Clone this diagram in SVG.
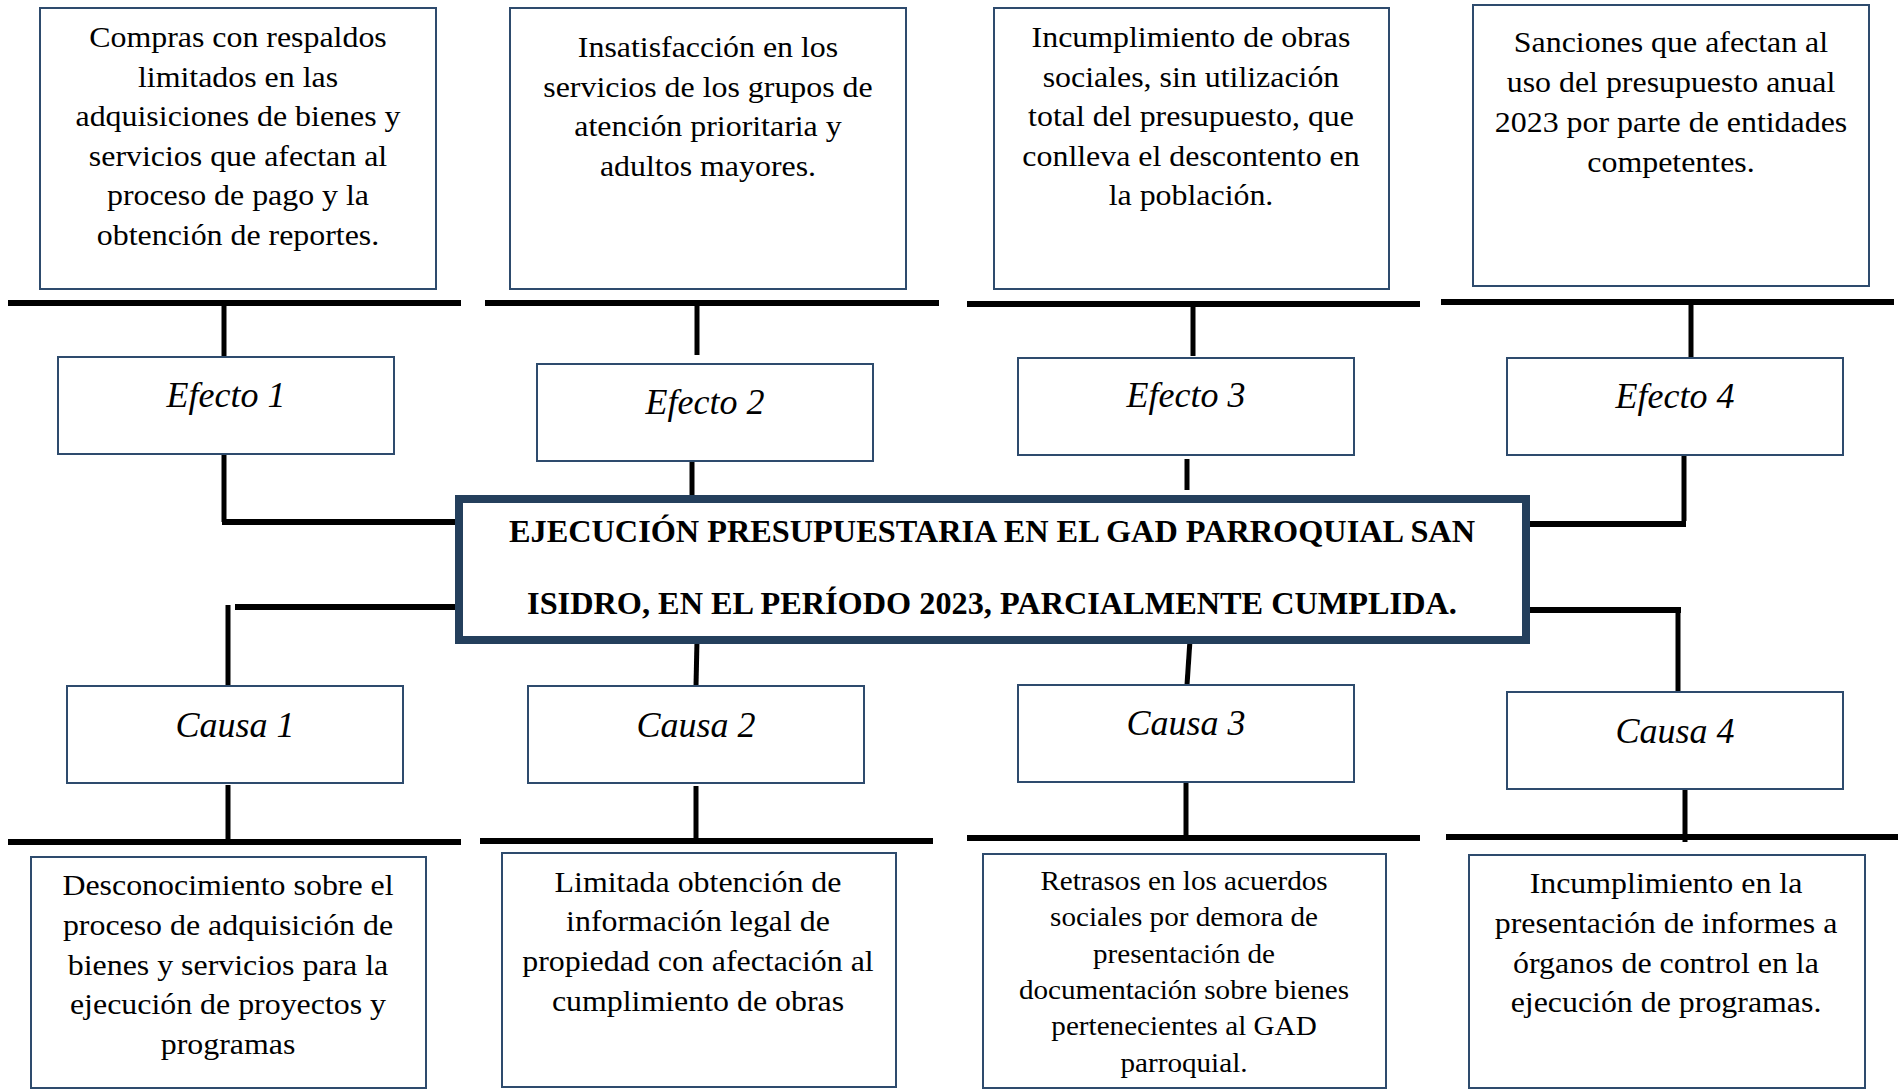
<svg xmlns="http://www.w3.org/2000/svg" width="1902" height="1091" viewBox="0 0 1902 1091">
<style>
.bg{fill:#ffffff}
.box{fill:#ffffff;stroke:#2E4B6D;stroke-width:2}
.main{fill:#ffffff;stroke:#243F5C;stroke-width:8}
.bar{stroke:#000000;stroke-width:6;fill:none}
.con{stroke:#000000;stroke-width:5;fill:none}
.t{font-family:"Liberation Serif","Times New Roman",serif;font-size:29px;fill:#000000;text-anchor:middle}
.ts{font-family:"Liberation Serif","Times New Roman",serif;font-size:26.5px;fill:#000000;text-anchor:middle}
.lab{font-family:"Liberation Serif","Times New Roman",serif;font-size:36px;font-style:italic;fill:#000000;text-anchor:middle}
.mt{font-family:"Liberation Serif","Times New Roman",serif;font-size:32.3px;font-weight:bold;fill:#000000;text-anchor:middle}
</style>
<rect class="bg" x="0" y="0" width="1902" height="1091"/>

<g id="connectors">
  <line class="bar" x1="8" y1="303" x2="461" y2="303"/>
  <line class="bar" x1="485" y1="303" x2="939" y2="303"/>
  <line class="bar" x1="967" y1="304" x2="1420" y2="304"/>
  <line class="bar" x1="1441" y1="302" x2="1894" y2="302"/>
  <line class="bar" x1="8" y1="842" x2="461" y2="842"/>
  <line class="bar" x1="480" y1="841" x2="933" y2="841"/>
  <line class="bar" x1="967" y1="838" x2="1420" y2="838"/>
  <line class="bar" x1="1446" y1="837" x2="1898" y2="837"/>
  <path class="con" d="M224,303 V356"/>
  <path class="con" d="M697,303 V355"/>
  <path class="con" d="M1193,304 V356"/>
  <path class="con" d="M1691,302 V357"/>
  <path class="con" d="M224,454 V522"/>
  <path class="bar" d="M222,522 H456"/>
  <path class="con" d="M692,461 V495"/>
  <path class="con" d="M1187,459 V490"/>
  <path class="con" d="M1684,455 V521"/>
  <path class="bar" d="M1530,524 H1686"/>
  <path class="bar" d="M235,607 H456"/>
  <path class="con" d="M228,605 V686"/>
  <path class="con" d="M697,640 L696,686"/>
  <path class="con" d="M1190,640 L1187,685"/>
  <path class="bar" d="M1530,610 H1681"/>
  <path class="con" d="M1678,607 V692"/>
  <path class="con" d="M228,785 V839"/>
  <path class="con" d="M696,786 V839"/>
  <path class="con" d="M1186,782 V835"/>
  <path class="con" d="M1685,789 V842"/>
</g>

<g id="efecto-texto-1">
  <rect class="box" x="40" y="8" width="396" height="281"/>
  <g transform="translate(238,0) scale(1.1,1)">
    <text class="t" x="0" y="47">Compras con respaldos</text>
    <text class="t" x="0" y="87">limitados en las</text>
    <text class="t" x="0" y="126">adquisiciones de bienes y</text>
    <text class="t" x="0" y="166">servicios que afectan al</text>
    <text class="t" x="0" y="205">proceso de pago y la</text>
    <text class="t" x="0" y="245">obtención de reportes.</text>
  </g>
</g>
<g id="efecto-texto-2">
  <rect class="box" x="510" y="8" width="396" height="281"/>
  <g transform="translate(708,0) scale(1.1,1)">
    <text class="t" x="0" y="57">Insatisfacción en los</text>
    <text class="t" x="0" y="97">servicios de los grupos de</text>
    <text class="t" x="0" y="136">atención prioritaria y</text>
    <text class="t" x="0" y="176">adultos mayores.</text>
  </g>
</g>
<g id="efecto-texto-3">
  <rect class="box" x="994" y="8" width="395" height="281"/>
  <g transform="translate(1191,0) scale(1.1,1)">
    <text class="t" x="0" y="47">Incumplimiento de obras</text>
    <text class="t" x="0" y="87">sociales, sin utilización</text>
    <text class="t" x="0" y="126">total del presupuesto, que</text>
    <text class="t" x="0" y="166">conlleva el descontento en</text>
    <text class="t" x="0" y="205">la población.</text>
  </g>
</g>
<g id="efecto-texto-4">
  <rect class="box" x="1473" y="5" width="396" height="281"/>
  <g transform="translate(1671,0) scale(1.1,1)">
    <text class="t" x="0" y="52">Sanciones que afectan al</text>
    <text class="t" x="0" y="92">uso del presupuesto anual</text>
    <text class="t" x="0" y="132">2023 por parte de entidades</text>
    <text class="t" x="0" y="172">competentes.</text>
  </g>
</g>

<g id="efecto-1">
  <rect class="box" x="58" y="357" width="336" height="97"/>
  <text class="lab" x="226" y="407">Efecto 1</text>
</g>
<g id="efecto-2">
  <rect class="box" x="537" y="364" width="336" height="97"/>
  <text class="lab" x="705" y="414">Efecto 2</text>
</g>
<g id="efecto-3">
  <rect class="box" x="1018" y="358" width="336" height="97"/>
  <text class="lab" x="1186" y="407">Efecto 3</text>
</g>
<g id="efecto-4">
  <rect class="box" x="1507" y="358" width="336" height="97"/>
  <text class="lab" x="1675" y="408">Efecto 4</text>
</g>

<g id="problema-central">
  <rect class="main" x="459" y="499" width="1067" height="141"/>
  <text class="mt" x="992" y="542">EJECUCIÓN PRESUPUESTARIA EN EL GAD PARROQUIAL SAN</text>
  <text class="mt" x="992" y="614">ISIDRO, EN EL PERÍODO 2023, PARCIALMENTE CUMPLIDA.</text>
</g>

<g id="causa-1">
  <rect class="box" x="67" y="686" width="336" height="97"/>
  <text class="lab" x="235" y="737">Causa 1</text>
</g>
<g id="causa-2">
  <rect class="box" x="528" y="686" width="336" height="97"/>
  <text class="lab" x="696" y="737">Causa 2</text>
</g>
<g id="causa-3">
  <rect class="box" x="1018" y="685" width="336" height="97"/>
  <text class="lab" x="1186" y="735">Causa 3</text>
</g>
<g id="causa-4">
  <rect class="box" x="1507" y="692" width="336" height="97"/>
  <text class="lab" x="1675" y="743">Causa 4</text>
</g>

<g id="causa-texto-1">
  <rect class="box" x="31" y="857" width="395" height="231"/>
  <g transform="translate(228,0) scale(1.1,1)">
    <text class="t" x="0" y="895">Desconocimiento sobre el</text>
    <text class="t" x="0" y="935">proceso de adquisición de</text>
    <text class="t" x="0" y="975">bienes y servicios para la</text>
    <text class="t" x="0" y="1014">ejecución de proyectos y</text>
    <text class="t" x="0" y="1054">programas</text>
  </g>
</g>
<g id="causa-texto-2">
  <rect class="box" x="502" y="853" width="394" height="234"/>
  <g transform="translate(698,0) scale(1.1,1)">
    <text class="t" x="0" y="892">Limitada obtención de</text>
    <text class="t" x="0" y="931">información legal de</text>
    <text class="t" x="0" y="971">propiedad con afectación al</text>
    <text class="t" x="0" y="1011">cumplimiento de obras</text>
  </g>
</g>
<g id="causa-texto-3">
  <rect class="box" x="983" y="854" width="403" height="234"/>
  <g transform="translate(1184,0) scale(1.1,1)">
    <text class="ts" x="0" y="890">Retrasos en los acuerdos</text>
    <text class="ts" x="0" y="926">sociales por demora de</text>
    <text class="ts" x="0" y="963">presentación de</text>
    <text class="ts" x="0" y="999">documentación sobre bienes</text>
    <text class="ts" x="0" y="1035">pertenecientes al GAD</text>
    <text class="ts" x="0" y="1072">parroquial.</text>
  </g>
</g>
<g id="causa-texto-4">
  <rect class="box" x="1469" y="855" width="396" height="233"/>
  <g transform="translate(1666,0) scale(1.1,1)">
    <text class="t" x="0" y="893">Incumplimiento en la</text>
    <text class="t" x="0" y="933">presentación de informes a</text>
    <text class="t" x="0" y="973">órganos de control en la</text>
    <text class="t" x="0" y="1012">ejecución de programas.</text>
  </g>
</g>
</svg>
